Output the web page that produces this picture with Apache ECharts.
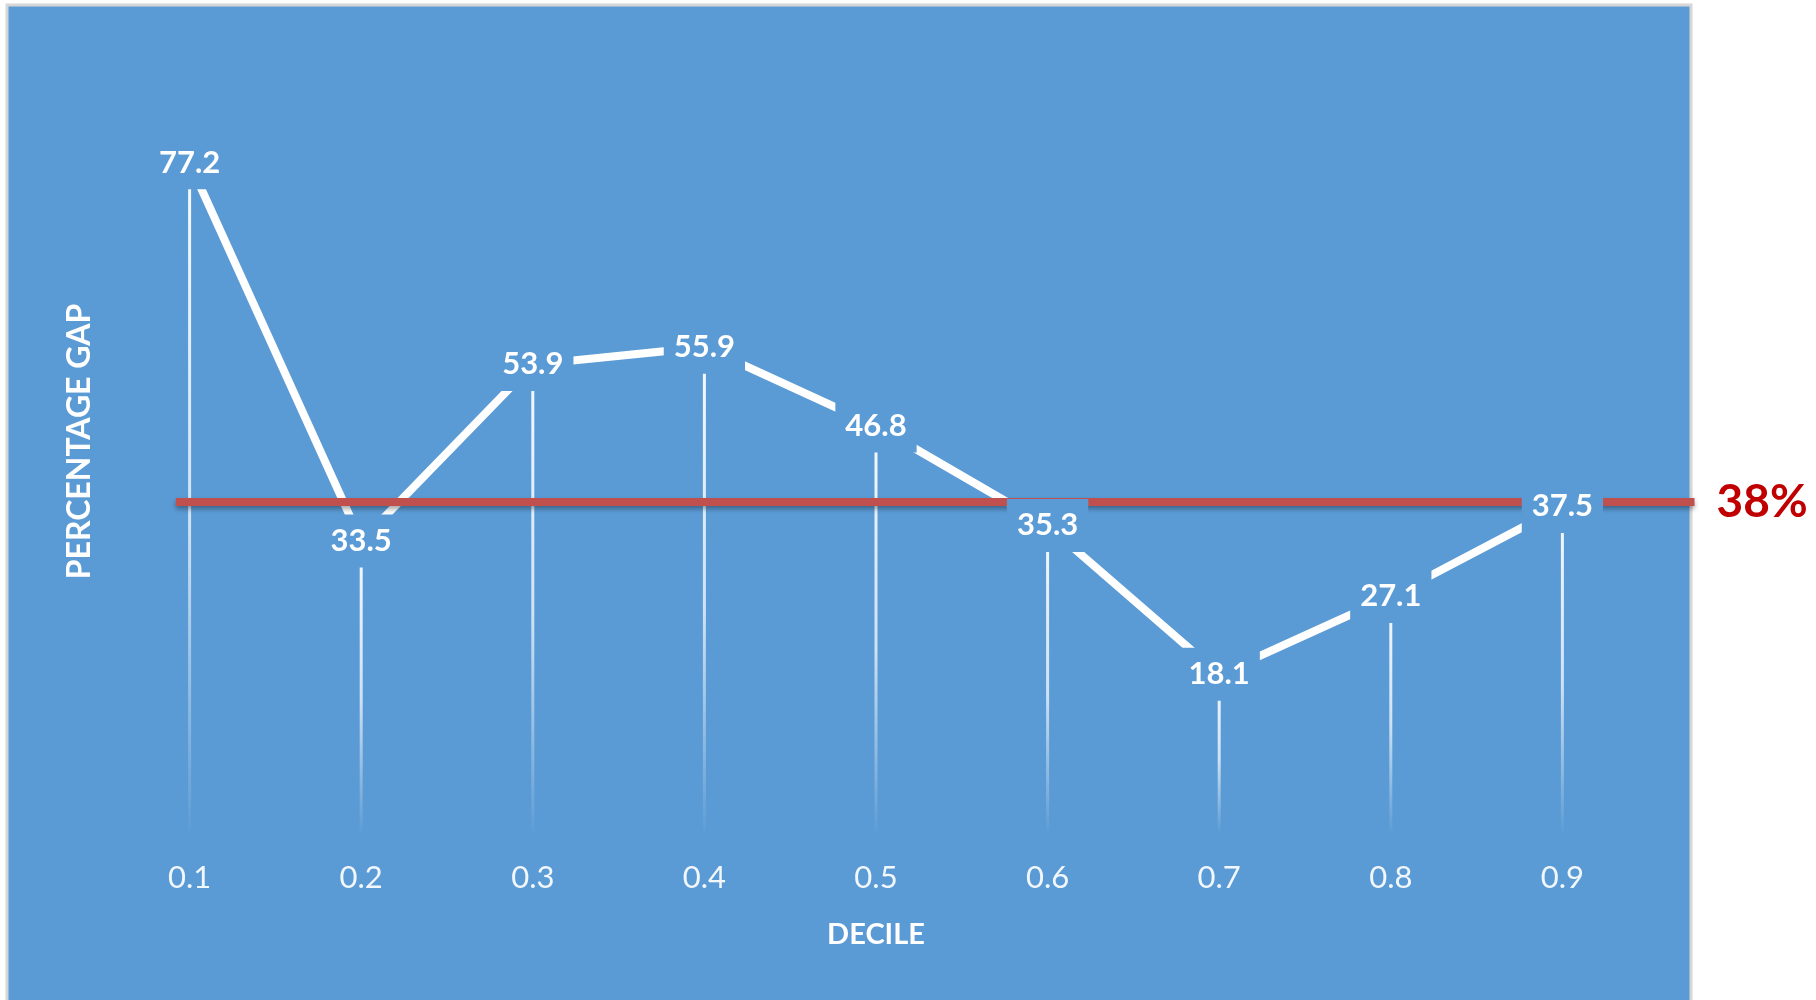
<!DOCTYPE html>
<html>
<head>
<meta charset="utf-8">
<title>Percentage gap by decile</title>
<script src="https://cdn.jsdelivr.net/npm/echarts@6/dist/echarts.min.js"></script>
<style>
  html, body { margin: 0; padding: 0; background: #ffffff; }
  #chart { width: 1816px; height: 1000px; }
</style>
</head>
<body>
<div id="chart"></div>
<script>
// Deciles and the percentage gap measured at each one
const deciles = [0.1, 0.2, 0.3, 0.4, 0.5, 0.6, 0.7, 0.8, 0.9];
const tickLabels = ['0.1', '0.2', '0.3', '0.4', '0.5', '0.6', '0.7', '0.8', '0.9'];
const gapValues = [77.2, 33.5, 53.9, 55.9, 46.8, 35.3, 18.1, 27.1, 37.5];

// Overall gap drawn as a reference line
const referenceGap = 38;

// Layout and styling
const PANEL_BLUE = '#5B9BD5';
const FONT = 'Lato';
const refLineSpan = [0.092, 0.977]; // horizontal extent of the reference line, in decile units

const points = deciles.map((d, i) => [d, gapValues[i]]);

const chart = echarts.init(document.getElementById('chart'), null, { renderer: 'canvas' });

chart.setOption({
  animation: false,
  backgroundColor: '#ffffff',
  textStyle: { fontFamily: FONT },
  graphic: [{
    type: 'rect',
    z: 0,
    silent: true,
    shape: { x: 7, y: 5, width: 1684, height: 1000 },
    style: { fill: PANEL_BLUE, stroke: '#D6D6D6', lineWidth: 3 }
  }],
  grid: { left: 18, right: 82, top: 52, bottom: 169 },
  xAxis: {
    type: 'value',
    min: 0,
    max: 1,
    name: 'DECILE',
    nameLocation: 'middle',
    nameGap: 89,
    nameTextStyle: { color: '#ffffff', fontFamily: FONT, fontWeight: 'bold', fontSize: 29 },
    axisLine: { show: false },
    axisTick: { show: false },
    splitLine: { show: false },
    axisLabel: {
      customValues: deciles,
      margin: 31,
      color: 'rgba(255,255,255,0.92)',
      fontFamily: FONT,
      fontSize: 31,
      formatter: (v) => {
        const i = deciles.findIndex(d => Math.abs(d - v) < 1e-6);
        return i >= 0 ? tickLabels[i] : '';
      }
    }
  },
  yAxis: {
    type: 'value',
    min: 0,
    max: 90,
    name: 'PERCENTAGE GAP',
    nameLocation: 'middle',
    nameRotate: 90,
    nameGap: -78,
    nameTextStyle: { color: '#ffffff', fontFamily: FONT, fontWeight: 'bold', fontSize: 32 },
    axisLine: { show: false },
    axisTick: { show: false },
    axisLabel: { show: false },
    splitLine: { show: false }
  },
  series: [
    {
      // drop lines from each point down to the base
      type: 'bar',
      z: 2,
      silent: true,
      barWidth: 3,
      data: points,
      itemStyle: {
        color: {
          type: 'linear', x: 0, y: 0, x2: 0, y2: 1,
          colorStops: [
            { offset: 0, color: 'rgba(255,255,255,0.95)' },
            { offset: 0.55, color: 'rgba(255,255,255,0.7)' },
            { offset: 1, color: 'rgba(255,255,255,0.02)' }
          ]
        }
      }
    },
    {
      // the connecting gap line, plus the overall reference line
      type: 'line',
      z: 3,
      silent: true,
      clip: false,
      data: points,
      showSymbol: false,
      symbol: 'none',
      lineStyle: { color: '#ffffff', width: 8, cap: 'butt', join: 'miter' },
      markLine: {
        silent: true,
        z: 4,
        symbol: ['none', 'none'],
        lineStyle: {
          color: '#C0504D',
          width: 8,
          type: 'solid',
          opacity: 1,
          shadowColor: 'rgba(0,0,0,0.35)',
          shadowBlur: 5,
          shadowOffsetY: 3
        },
        label: {
          show: true,
          position: 'end',
          distance: 22,
          formatter: referenceGap + '%',
          color: '#C00000',
          fontFamily: FONT,
          fontWeight: 'bold',
          fontSize: 46
        },
        emphasis: { disabled: true },
        data: [[
          { coord: [refLineSpan[0], referenceGap] },
          { coord: [refLineSpan[1], referenceGap] }
        ]]
      }
    },
    {
      // value labels sitting on each point, masking the lines beneath
      type: 'scatter',
      z: 5,
      silent: true,
      data: points,
      symbolSize: 1,
      itemStyle: { color: PANEL_BLUE, opacity: 1 },
      label: {
        show: true,
        position: 'inside',
        formatter: (p) => p.value[1].toFixed(1),
        color: '#ffffff',
        opacity: 1,
        fontFamily: FONT,
        fontWeight: 'bold',
        fontSize: 31,
        backgroundColor: PANEL_BLUE,
        padding: [11, 10]
      }
    }
  ]
});
</script>
</body>
</html>
